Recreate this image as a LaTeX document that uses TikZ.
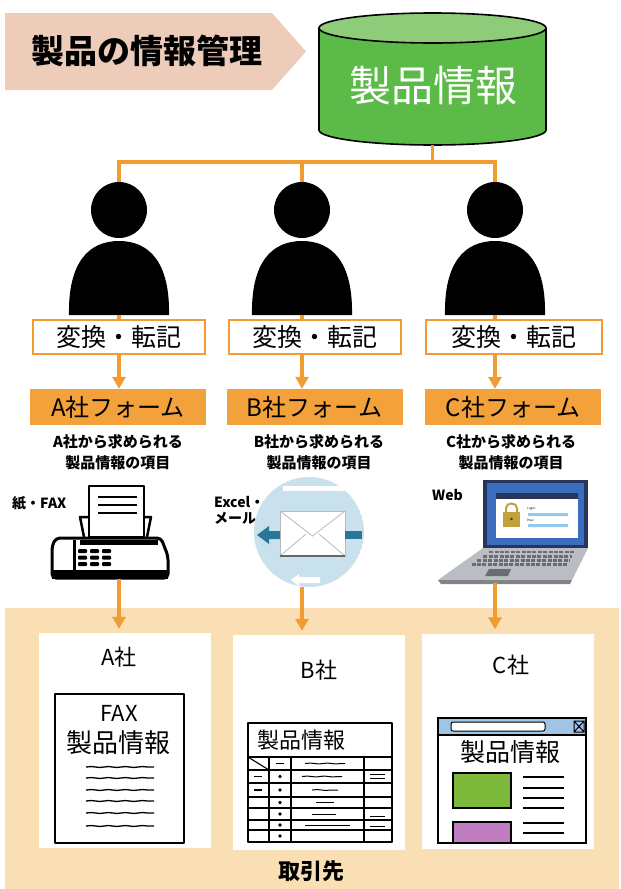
\documentclass[tikz,border=0pt]{standalone}
\usepackage{fontspec}
\setmainfont{Noto Sans CJK JP}
\usetikzlibrary{arrows.meta,positioning,calc,decorations.pathmorphing}
\definecolor{linkorange}{RGB}{242,155,48}
\definecolor{formorange}{RGB}{243,161,58}
\definecolor{titlepink}{RGB}{238,204,186}
\definecolor{dbgreen}{RGB}{92,186,72}
\definecolor{dbtop}{RGB}{142,204,122}
\definecolor{partnerbg}{RGB}{250,223,180}
\definecolor{mailblue}{RGB}{201,225,237}
\definecolor{mailteal}{RGB}{42,118,155}
\definecolor{screenblue}{RGB}{58,108,192}
\definecolor{screennavy}{RGB}{40,52,88}
\definecolor{lockgold}{RGB}{196,160,60}
\definecolor{fieldblue}{RGB}{150,200,235}
\definecolor{basegray}{RGB}{186,189,194}
\definecolor{keygray}{RGB}{105,108,114}
\definecolor{barblue}{RGB}{160,196,230}
\definecolor{boxgreen}{RGB}{125,186,60}
\definecolor{boxpurple}{RGB}{192,125,192}
\tikzset{
  convbox/.style={draw=linkorange, line width=1.8pt, fill=white, minimum width=172pt, minimum height=34pt, inner sep=0pt, font=\fontsize{25}{25}\selectfont},
  formbox/.style={fill=formorange, minimum width=176pt, minimum height=36pt, inner sep=0pt, font=\fontsize{24}{24}\selectfont},
  itemtext/.style={align=center, inner sep=0pt, font=\bfseries\fontsize{15}{21}\selectfont},
  medialabel/.style={align=left, inner sep=0pt, font=\bfseries\fontsize{14}{16}\selectfont},
  head/.style={circle, fill=black, minimum size=56pt, inner sep=0pt},
  panel/.style={fill=white, minimum width=172pt, minimum height=215pt, inner sep=0pt},
  company/.style={font=\fontsize{22}{22}\selectfont},
  link/.style={draw=linkorange, line width=3.5pt},
  line/.style={link, -{Triangle[width=13pt,length=12pt]}},
  sketch/.style={line width=1.6pt, line join=round},
  scrawl/.style={line width=1.3pt, decorate, decoration={snake, amplitude=0.45pt, segment length=17pt}}
}
\begin{document}
\begin{tikzpicture}[x=1pt, y=-1pt]
  \useasboundingbox (0,0) rectangle (621,889);
  \fill[white] (0,0) rectangle (621,889);

  \fill[titlepink] (5,13) -- (272,13) -- (306,51.5) -- (272,90) -- (5,90) -- cycle;
  \node[font=\bfseries\fontsize{33}{33}\selectfont] (title) at (147,51) {製品の情報管理};

  \filldraw[fill=dbgreen, line width=1.6pt] (432.5,130) ellipse[x radius=113.5, y radius=15];
  \fill[dbgreen] (319,28) rectangle (546,130);
  \draw[line width=1.6pt] (319,28) -- (319,130) (546,28) -- (546,130);
  \filldraw[fill=dbtop, line width=1.6pt] (432.5,28) ellipse[x radius=113.5, y radius=15];
  \node[text=white, font=\fontsize{42}{42}\selectfont] (db) at (433,86) {製品情報};
  \coordinate (dbbase) at (432.5,145);

  \foreach \c/\n in {119/A,302/B,495/C}{
    \fill (\c-50,315) .. controls (\c-51,262) and (\c-30,241) .. (\c,241)
      .. controls (\c+30,241) and (\c+51,262) .. (\c+50,315) -- cycle;
    \node[head] (head\n) at (\c,210) {};
    \coordinate (foot\n) at (\c,315);
  }

  \draw[link] (dbbase) -- ++(0,17) -| (headA);
  \draw[link] (dbbase) -- ++(0,17) -| (headB);
  \draw[link] (dbbase) -- ++(0,17) -| (headC);

  \node[convbox] (convA) at (119,337) {変換・転記};
  \node[convbox] (convB) at (315,337) {変換・転記};
  \node[convbox, minimum width=176pt] (convC) at (514,337) {変換・転記};
  \draw[link] (footA) -- (footA |- convA.north);
  \draw[link] (footB) -- (footB |- convB.north);
  \draw[link] (footC) -- (footC |- convC.north);

  \node[formbox] (formA) at (118,407) {A社フォーム};
  \node[formbox] (formB) at (314.5,407) {B社フォーム};
  \node[formbox] (formC) at (513,407) {C社フォーム};
  \draw[line] (footA |- convA.south) -- (footA |- formA.north);
  \draw[line] (footB |- convB.south) -- (footB |- formB.north);
  \draw[line] (footC |- convC.south) -- (footC |- formC.north);

  \node[itemtext] (itemA) at (118,452) {A社から求められる\\製品情報の項目};
  \node[itemtext] (itemB) at (319,452) {B社から求められる\\製品情報の項目};
  \node[itemtext] (itemC) at (511,452) {C社から求められる\\製品情報の項目};

  \node[medialabel, anchor=west] (paperfax) at (12,503) {紙・FAX};
  \node[medialabel, anchor=west] (excelmail) at (214,510) {Excel・\\メール};
  \node[medialabel, anchor=west] (web) at (432,495) {Web};

  \filldraw[fill=white, line width=2.5pt, line join=round] (89,486) rectangle (144,537);
  \draw[line width=2pt] (98,497) -- (137,497) (98,505) -- (137,505) (98,513) -- (137,513);
  \draw[line width=2.5pt, line join=round] (89,517) -- (80,517) -- (84,537) (144,517) -- (151,517) -- (147,537);
  \filldraw[fill=white, line width=3pt, rounded corners=4pt] (56,538) -- (161,538) -- (168,556) -- (168,578) -- (52,578) -- (52,546) -- cycle;
  \draw[line width=3pt] (74,540) -- (74,576);
  \fill (80,540) rectangle (158,545);
  \foreach \kx in {78,90,102}
    \foreach \ky in {549,555.5,562}
      \fill[rounded corners=1pt] (\kx,\ky) rectangle ++(9,4);
  \fill (52,570) rectangle (168,579);
  \coordinate (faxfoot) at (119,579);

  \begin{scope}
    \clip (309,532) circle[radius=55pt];
    \fill[mailblue] (309,532) circle[radius=55pt];
    \fill[white] (283,486) rectangle (370,491);
    \fill[white] (291,580) -- (299,574) -- (299,577) -- (320,577) -- (320,583) -- (299,583) -- (299,586) -- cycle;
  \end{scope}
  \filldraw[fill=white, draw=gray!55, line width=0.8pt] (280,511) rectangle (345,556);
  \draw[gray!55, line width=0.8pt] (280,511) -- (312.5,536) -- (345,511) (280,556) -- (306,534) (345,556) -- (319,534);
  \draw[gray!80!black, line width=1.5pt] (280,556) -- (345,556);
  \fill[mailteal] (257,535) -- (269,526) -- (269,531) -- (280,531) -- (280,539) -- (269,539) -- (269,544) -- cycle;
  \fill[mailteal] (345,531) rectangle (362,539);
  \coordinate (mailfoot) at (302,587);

  \fill[screennavy] (483,480) rectangle (588,548);
  \fill[screenblue] (487,483) rectangle (584,545);
  \fill[white] (496,493) rectangle (578,538);
  \fill[screennavy] (496,493) rectangle (578,499);
  \draw[lockgold, line width=2pt] (506,512) -- (506,508) .. controls (506,502) and (517,502) .. (517,508) -- (517,512);
  \fill[lockgold] (503,512) rectangle (520,527);
  \fill[screennavy] (511.5,519) circle[radius=1.3pt];
  \fill[fieldblue] (528,513) rectangle (568,516) (528,524) rectangle (568,527);
  \node[font=\fontsize{3}{3}\selectfont, anchor=west, inner sep=0pt] (login) at (527,509) {Login:};
  \node[font=\fontsize{3}{3}\selectfont, anchor=west, inner sep=0pt] (pass) at (527,520.5) {Pass:};
  \fill[basegray] (483,548) -- (588,548) -- (572,580) -- (438,580) -- cycle;
  \fill[basegray!70!black] (438,580) -- (572,580) -- (570,584) -- (441,584) -- cycle;
  \foreach \f in {0.13,0.26,0.39,0.52}
    \draw[keygray, line width=2.6pt, dash pattern=on 4pt off 1.4pt]
      ($(483,548)!\f!(438,580)+(12,0)$) -- ($(588,548)!\f!(572,580)+(-12,0)$);
  \fill[keygray] (489,569) -- (511,569) -- (508,576) -- (485,576) -- cycle;
  \coordinate (webfoot) at (495,583);

  \node[fill=partnerbg, minimum width=614pt, minimum height=281pt, inner sep=0pt] (partners) at (312,748.5) {};
  \node[panel] (panelA) at (125,740.5) {};
  \node[panel] (panelB) at (319,742.5) {};
  \node[panel] (panelC) at (508,741) {};
  \node[font=\bfseries\fontsize{22}{22}\selectfont] (partnerlabel) at (311,871) {取引先};

  \draw[line, shorten >=4pt] (faxfoot) -- (faxfoot |- panelA.north);
  \draw[line, shorten >=4pt] (mailfoot) -- (mailfoot |- panelB.north);
  \draw[line, shorten >=4pt] (webfoot) -- (webfoot |- panelC.north);

  \node[company] (compA) at (119,657) {A社};
  \draw[sketch] (55,694) rectangle (184,843);
  \node[font=\fontsize{22}{22}\selectfont] (faxword) at (119,713) {FAX};
  \node[font=\fontsize{26}{26}\selectfont] (faxtitle) at (118,743) {製品情報};
  \foreach \y in {767,778,790,801,813,826}
    \draw[scrawl] (86,\y) -- (154,\y);

  \node[company] (compB) at (319,670) {B社};
  \draw[sketch] (248,723) rectangle (392,842);
  \node[font=\fontsize{22}{22}\selectfont] (tabletitle) at (301,740) {製品情報};
  \draw[sketch] (248,757) -- (392,757);
  \foreach \y in {770,783,797,808,820,830}
    \draw[line width=1.2pt] (248,\y) -- (392,\y);
  \draw[sketch] (269,757) -- (269,842) (291,757) -- (291,842) (364,757) -- (364,842);
  \draw[line width=1.1pt] (248,757) -- (269,770);
  \draw[line width=1.2pt] (254,776.5) -- (262,776.5) (254,790) -- (262,790) (276,763.5) -- (284,763.5);
  \foreach \y in {776.5,790,802.5,814,825,836}
    \fill (280,\y) circle[radius=1.8pt];
  \draw[scrawl, line width=1pt] (305,763.5) -- (345,763.5);
  \draw[scrawl, line width=1pt] (302,776.5) -- (342,776.5);
  \draw[scrawl, line width=1pt] (312,790) -- (338,790);
  \draw[line width=1pt] (316,802.5) -- (334,802.5) (312,814) -- (336,814) (305,825) -- (350,825);
  \draw[line width=1pt] (370,774) -- (385,774) (370,778) -- (385,778) (370,816) -- (385,816) (370,819) -- (385,819) (370,826) -- (385,826);

  \node[company] (compC) at (511,665) {C社};
  \draw[line width=1.4pt] (438,718) rectangle (586,843);
  \filldraw[fill=barblue, line width=1.4pt] (438,718) rectangle (586,735);
  \filldraw[fill=white, line width=1pt, rounded corners=2pt] (451,722) rectangle (545,731);
  \draw[line width=1pt] (574,721) rectangle (584,732) (574,721) -- (584,732) (574,732) -- (584,721);
  \node[font=\fontsize{25}{25}\selectfont] (pagetitle) at (510,752) {製品情報};
  \filldraw[fill=boxgreen, line width=1.2pt] (453,773) rectangle (511,808);
  \filldraw[fill=boxpurple, line width=1.2pt] (453,822) rectangle (511,843);
  \foreach \y in {777,788,798,808,823,833}
    \draw[line width=1.3pt] (523,\y) -- (564,\y);
\end{tikzpicture}
\end{document}
